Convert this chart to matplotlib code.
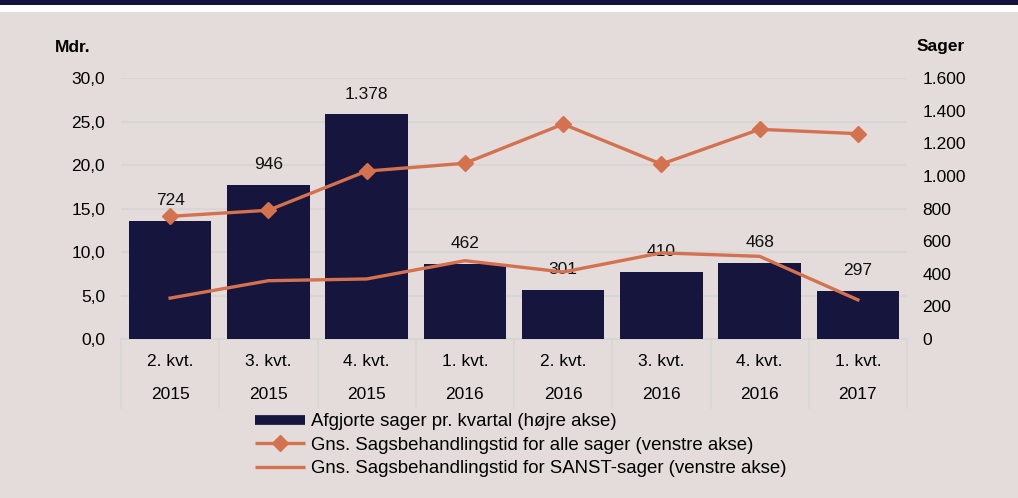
import matplotlib
matplotlib.use("Agg")
import matplotlib.pyplot as plt
from matplotlib.lines import Line2D
from matplotlib.patches import Rectangle
import matplotlib.transforms as mtransforms

plt.rcParams['font.family'] = ['Liberation Sans', 'DejaVu Sans']

quarters = ["2. kvt.", "3. kvt.", "4. kvt.", "1. kvt.", "2. kvt.", "3. kvt.", "4. kvt.", "1. kvt."]
years = ["2015", "2015", "2015", "2016", "2016", "2016", "2016", "2017"]
afgjorte = [724, 946, 1378, 462, 301, 410, 468, 297]
gns_alle = [14.1, 14.8, 19.3, 20.2, 24.7, 20.1, 24.1, 23.6]
gns_sanst = [4.7, 6.7, 6.9, 9.0, 7.7, 9.9, 9.5, 4.5]

left_ticks = [0, 5, 10, 15, 20, 25, 30]
right_ticks = [0, 200, 400, 600, 800, 1000, 1200, 1400, 1600]

BG = "#e3dcdb"
NAVY = "#15153d"
ORANGE = "#d4714f"
GRID = "#d8d5d5"
FS = 12.5
LFS = 13.4

def dk_thousands(v):
    return f"{v:,.0f}".replace(",", ".")

def dk_dec(v):
    return f"{v:.1f}".replace(".", ",")

fig = plt.figure(figsize=(10.18, 4.98), dpi=100, facecolor=BG)
# top band
fig.patches.append(Rectangle((0, 1 - 12 / 498), 1, 12 / 498, transform=fig.transFigure,
                             facecolor="white", edgecolor="none", zorder=0))
fig.patches.append(Rectangle((0, 1 - 5 / 498), 1, 5 / 498, transform=fig.transFigure,
                             facecolor="#13133b", edgecolor="none", zorder=1))

rect = [121 / 1018, 1 - 339 / 498, (907 - 121) / 1018, (339 - 78) / 498]
ax = fig.add_axes(rect)
ax.set_facecolor(BG)
x = list(range(len(quarters)))
ax.set_xlim(-0.5, len(quarters) - 0.5)
ax.set_ylim(0, 30)
ax.set_yticks(left_ticks)
ax.set_yticklabels([dk_dec(v) for v in left_ticks], fontsize=FS)
ax.tick_params(axis='y', length=0, pad=11.5)
ax.set_xticks([])
ax.grid(axis='y', color=GRID, linewidth=1.5)
ax.set_axisbelow(True)
for s in ["top", "right", "left"]:
    ax.spines[s].set_visible(False)
ax.spines["bottom"].set_color(GRID)
ax.spines["bottom"].set_linewidth(1.2)

axb = ax.twinx()
axb.set_zorder(2)
axb.patch.set_visible(False)
axb.set_ylim(0, 1600)
axb.set_yticks(right_ticks)
axb.set_yticklabels([dk_thousands(v) for v in right_ticks], fontsize=FS)
axb.tick_params(axis='y', length=0, pad=11)
for s in axb.spines.values():
    s.set_visible(False)
bars = axb.bar(x, afgjorte, width=0.84, color=NAVY, zorder=2)
for xi, v in zip(x, afgjorte):
    axb.annotate(dk_thousands(v), (xi, v), xytext=(0, 14.5), textcoords="offset points",
                 ha="center", va="center", fontsize=FS, color="#111111")

axl = ax.twinx()
axl.set_zorder(3)
axl.patch.set_visible(False)
axl.set_ylim(0, 30)
axl.set_yticks([])
for s in axl.spines.values():
    s.set_visible(False)
axl.plot(x, gns_alle, color=ORANGE, lw=2.4, marker="D", markersize=8,
         markerfacecolor=ORANGE, markeredgecolor=ORANGE, zorder=4)
axl.plot(x, gns_sanst, color=ORANGE, lw=2.4, zorder=4)

# category table
trans = mtransforms.blended_transform_factory(ax.transData, ax.transAxes)
for xi, q, yr in zip(x, quarters, years):
    ax.text(xi, -0.088, q, transform=trans, ha="center", va="center", fontsize=FS)
    ax.text(xi, -0.214, yr, transform=trans, ha="center", va="center", fontsize=FS)
for b in range(len(quarters) + 1):
    ax.plot([b - 0.5, b - 0.5], [0, -0.264], transform=trans, color=GRID,
            lw=1.2, clip_on=False)

fig.text(55 / 1018, 1 - 47 / 498, "Mdr.", fontsize=FS, fontweight="bold", ha="left", va="center")
fig.text(917 / 1018, 1 - 47 / 498, "Sager", fontsize=FS, fontweight="bold", ha="left", va="center")

handles = [
    Line2D([], [], color=NAVY, lw=7, solid_capstyle="butt"),
    Line2D([], [], color=ORANGE, lw=2.4, marker="D", markersize=8, solid_capstyle="butt"),
    Line2D([], [], color=ORANGE, lw=2.4, solid_capstyle="butt"),
]
labels = [
    "Afgjorte sager pr. kvartal (højre akse)",
    "Gns. Sagsbehandlingstid for alle sager (venstre akse)",
    "Gns. Sagsbehandlingstid for SANST-sager (venstre akse)",
]
fig.legend(handles, labels, loc="upper left", bbox_to_anchor=(255 / 1018, 1 - 413 / 498),
           frameon=False, fontsize=LFS, handlelength=2.7, handletextpad=0.3,
           labelspacing=0.36, borderpad=0, borderaxespad=0)

fig.savefig("out.png", dpi=100, facecolor=BG)
